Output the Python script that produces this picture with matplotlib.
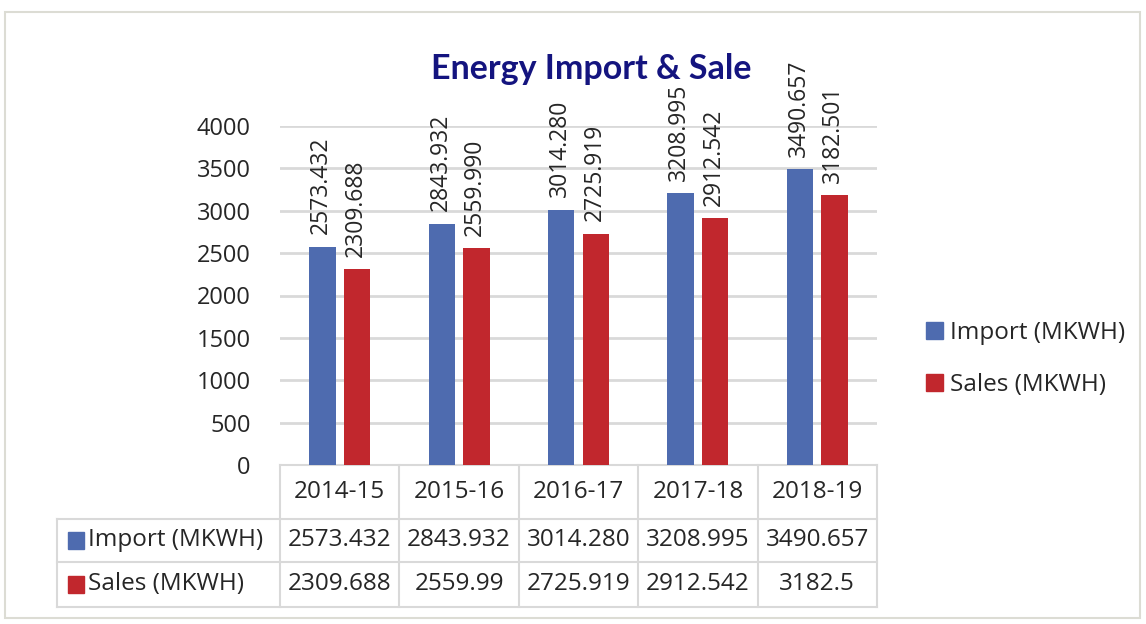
import numpy as np
import matplotlib
matplotlib.use("Agg")
import matplotlib.pyplot as plt
from matplotlib import transforms
from matplotlib.patches import Rectangle, Patch

years = ["2014-15", "2015-16", "2016-17", "2017-18", "2018-19"]
imports = [2573.432, 2843.932, 3014.280, 3208.995, 3490.657]
sales = [2309.688, 2559.990, 2725.919, 2912.542, 3182.501]
import_cells = ["2573.432", "2843.932", "3014.280", "3208.995", "3490.657"]
sales_cells = ["2309.688", "2559.99", "2725.919", "2912.542", "3182.5"]
yticks = [0, 500, 1000, 1500, 2000, 2500, 3000, 3500, 4000]

BLUE = "#4e6baf"; RED = "#c1272d"; NAVY = "#14147f"; INK = "#262626"; GRID = "#d9d9d9"
FONT = ["Open Sans", "DejaVu Sans"]
plt.rcParams["font.family"] = FONT

W, H = 1146, 624
fig = plt.figure(figsize=(W / 100, H / 100), dpi=100)
fig.patch.set_facecolor("white")
fig.patches.append(Rectangle((5 / W, 1 - 618 / H), 1135 / W, 606 / H, transform=fig.transFigure,
                             fill=False, edgecolor="#dcdcd4", lw=1.5))

ax = fig.add_axes([280 / W, 1 - 465 / H, 597 / W, 339 / H])
x = np.arange(len(years))
bw, off = 0.22, 0.145
ax.bar(x - off, imports, bw, color=BLUE, label="Import (MKWH)", zorder=3)
ax.bar(x + off, sales, bw, color=RED, label="Sales (MKWH)", zorder=3)
for xs, vals in [(x - off, imports), (x + off, sales)]:
    for xi, v in zip(xs, vals):
        ax.annotate(f"{v:.3f}", (xi, v), xytext=(-1, 9), textcoords="offset points",
                    rotation=90, ha="center", va="bottom", fontsize=16.5, color=INK,
                    annotation_clip=False)

ax.set_xlim(-0.5, len(years) - 0.5)
ax.set_ylim(0, 4000)
ax.set_yticks(yticks)
ax.set_yticklabels([str(t) for t in yticks], fontsize=17, color=INK)
ax.tick_params(axis="y", length=0, pad=21)
ax.set_xticks([])
ax.grid(axis="y", color=GRID, lw=2)
ax.set_axisbelow(True)
for s in ax.spines.values():
    s.set_visible(False)

# data table under the axis
bt = transforms.blended_transform_factory(ax.transData, ax.transAxes)
rows_y = [0, -0.159, -0.286, -0.419]
left = -0.3735
ax.plot([0, 1], [0, 0], transform=ax.transAxes, color=GRID, lw=1.5, clip_on=False)
for yy in rows_y[1:]:
    ax.plot([left, 1], [yy, yy], transform=ax.transAxes, color=GRID, lw=1.5, clip_on=False)
ax.plot([left, left], [rows_y[1], rows_y[3]], transform=ax.transAxes, color=GRID, lw=1.5, clip_on=False)
for b in np.arange(len(years) + 1) - 0.5:
    ax.plot([b, b], [0, rows_y[3]], transform=bt, color=GRID, lw=1.5, clip_on=False)

cy = [(rows_y[i] + rows_y[i + 1]) / 2 for i in range(3)]
for i, yr in enumerate(years):
    ax.text(i, cy[0], yr, transform=bt, ha="center", va="center", fontsize=17.5, color=INK)
    ax.text(i, cy[1], import_cells[i], transform=bt, ha="center", va="center", fontsize=17.5, color=INK)
    ax.text(i, cy[2], sales_cells[i], transform=bt, ha="center", va="center", fontsize=17.5, color=INK)

for yy, lab, c in [(cy[1], "Import (MKWH)", BLUE), (cy[2], "Sales (MKWH)", RED)]:
    ax.add_patch(Rectangle((-0.355, yy - 0.025), 0.027, 0.05, transform=ax.transAxes,
                           color=c, clip_on=False))
    ax.text(-0.322, yy, lab, transform=ax.transAxes, ha="left", va="center",
            fontsize=17.5, color=INK)

fig.text(591 / W, 1 - 69 / H, "Energy Import & Sale", ha="center", va="center",
         fontsize=24.5, fontweight="bold", color=NAVY, family=["Lato", "DejaVu Sans"])

handles = [Patch(color=BLUE, label="Import (MKWH)"), Patch(color=RED, label="Sales (MKWH)")]
fig.legend(handles=handles, loc="center left", bbox_to_anchor=(904 / W, 1 - 359 / H),
           frameon=False, fontsize=17.5, handlelength=0.7, handleheight=0.7,
           handletextpad=0.3, labelspacing=1.15, labelcolor=INK)

fig.savefig("out.png", dpi=100, facecolor="white")
